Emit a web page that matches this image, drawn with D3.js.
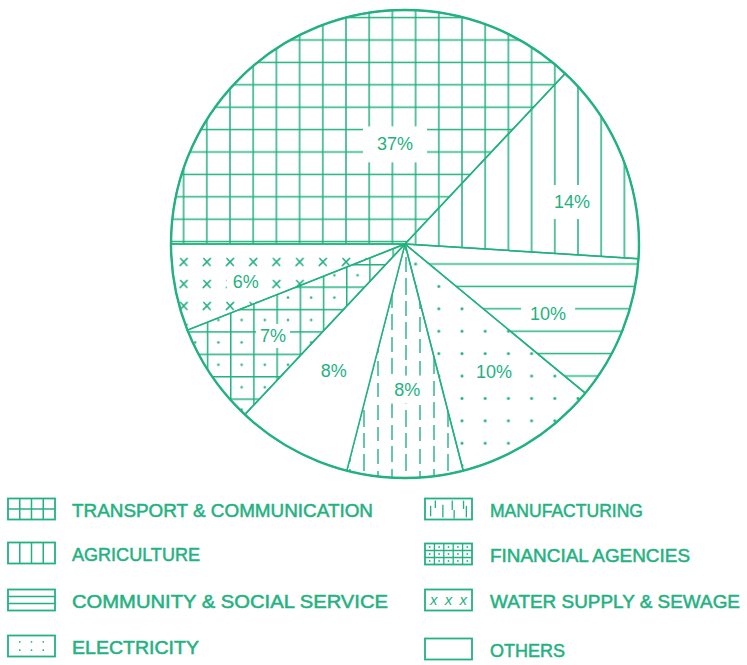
<!DOCTYPE html>
<html>
<head>
<meta charset="utf-8">
<script src="https://cdn.jsdelivr.net/npm/d3@7/dist/d3.min.js"></script>
<style>
  html, body { margin: 0; padding: 0; background: #fff; }
  svg { display: block; }
</style>
</head>
<body>
<svg id="chart" width="747" height="665"></svg>
<script>
// Sectors, in drawing order clockwise from nine o'clock
const categories = [
  "TRANSPORT & COMMUNICATION",
  "AGRICULTURE",
  "COMMUNITY & SOCIAL SERVICE",
  "ELECTRICITY",
  "MANUFACTURING",
  "OTHERS",
  "FINANCIAL AGENCIES",
  "WATER SUPPLY & SEWAGE"
];
const shares = [37, 14, 10, 10, 8, 8, 7, 6];
const shareLabels = ["37%", "14%", "10%", "10%", "8%", "8%", "7%", "6%"];
const hatchKinds = ["grid", "vlines", "hlines", "dots", "dashes", "plain", "gridDots", "crosses"];

// Legend arrangement: two columns of four
const legendLeft = [0, 1, 2, 3];
const legendRight = [4, 6, 7, 5];

// ---- layout / style ----
const INK = "#23b27f";
const W = 747, H = 665;
const cx = 405, cy = 244, R = 234;
const cellW = 23.2, cellH = 22.4;

// where each percentage sits: [fraction across the sector's angle, fraction of radius]
const labelAt = [[0.633, 0.43], [0.645, 0.736], [0.62, 0.68], [0.43, 0.665],
                 [0.47, 0.62], [0.52, 0.62], [0.48, 0.686], [0.38, 0.70]];
// white clearing behind each percentage: [padX, padY]
const labelPad = [[14, 10], [8, 9], [9, 3], [7, 6], [6, 6], [0, 0], [4, 4], [6, 5]];

const svg = d3.select("#chart");
svg.append("rect").attr("width", W).attr("height", H).attr("fill", "#fff");
const defs = svg.append("defs");

// ---- hatch patterns, aligned on the pie centre ----
function pattern(id, w, h, ox, oy) {
  return defs.append("pattern")
    .attr("id", id)
    .attr("patternUnits", "userSpaceOnUse")
    .attr("width", w).attr("height", h)
    .attr("x", ox).attr("y", oy);
}
const sw = 1.5;

// square grid
{
  const p = pattern("grid", cellW, cellH, cx - cellW / 2, cy - cellH / 2);
  p.append("line").attr("x1", cellW / 2).attr("x2", cellW / 2).attr("y1", 0).attr("y2", cellH)
    .attr("stroke", INK).attr("stroke-width", sw);
  p.append("line").attr("y1", cellH / 2).attr("y2", cellH / 2).attr("x1", 0).attr("x2", cellW)
    .attr("stroke", INK).attr("stroke-width", sw);
}
// vertical rules
{
  const p = pattern("vlines", cellW, cellH, cx - cellW / 2, 0);
  p.append("line").attr("x1", cellW / 2).attr("x2", cellW / 2).attr("y1", 0).attr("y2", cellH)
    .attr("stroke", INK).attr("stroke-width", sw);
}
// horizontal rules
{
  const p = pattern("hlines", cellW, cellH, 0, cy - cellH / 2);
  p.append("line").attr("y1", cellH / 2).attr("y2", cellH / 2).attr("x1", 0).attr("x2", cellW)
    .attr("stroke", INK).attr("stroke-width", sw);
}
// dots on grid intersections
{
  const p = pattern("dots", cellW, cellH, cx - cellW / 2, cy - cellH / 2);
  p.append("circle").attr("cx", cellW / 2).attr("cy", cellH / 2).attr("r", 1.5).attr("fill", INK);
}
// staggered vertical dashes
{
  const tw = 42, th = 44;
  const p = pattern("dashes", tw, th, cx - 5, cy);
  const dashes = [
    [7, 2, 18], [7, 25, 40],
    [21, 10, 27], [21, 33, 44], [21, 0, 4],
    [35, 5, 20], [35, 27, 41]
  ];
  dashes.forEach(([x, y1, y2]) => {
    p.append("line").attr("x1", x).attr("x2", x).attr("y1", y1).attr("y2", y2)
      .attr("stroke", INK).attr("stroke-width", 1.4);
  });
}
// grid with a dot in each cell
{
  const p = pattern("gridDots", cellW, cellH, cx, cy);
  p.append("line").attr("x1", 0.75).attr("x2", 0.75).attr("y1", 0).attr("y2", cellH)
    .attr("stroke", INK).attr("stroke-width", sw);
  p.append("line").attr("y1", 0.75).attr("y2", 0.75).attr("x1", 0).attr("x2", cellW)
    .attr("stroke", INK).attr("stroke-width", sw);
  p.append("circle").attr("cx", cellW / 2).attr("cy", cellH / 2).attr("r", 1.3).attr("fill", INK);
}
// rows of little crosses
{
  const tw = cellW, th = 22;
  const p = pattern("crosses", tw, th, cx - tw / 2, cy + 16 - th / 2);
  const g = p.append("g").attr("transform", `translate(${tw / 2},${th / 2})`)
    .attr("stroke", INK).attr("stroke-width", 1.5).attr("stroke-linecap", "round");
  g.append("line").attr("x1", -3).attr("y1", -3.6).attr("x2", 3.3).attr("y2", 3.6);
  g.append("line").attr("x1", 3.6).attr("y1", -3.6).attr("x2", -3.6).attr("y2", 3.6);
}

const fillFor = k => k === "plain" ? "#fff" : `url(#${k})`;

// ---- pie ----
const pie = d3.pie().sort(null).value(d => d)
  .startAngle(-Math.PI / 2).endAngle(3 * Math.PI / 2);
const arcs = pie(shares);
const arc = d3.arc().innerRadius(0).outerRadius(R);

const gPie = svg.append("g").attr("transform", `translate(${cx},${cy})`);

gPie.selectAll("path.sector")
  .data(arcs)
  .join("path")
  .attr("class", "sector")
  .attr("d", arc)
  .attr("fill", (d, i) => fillFor(hatchKinds[i]))
  .attr("stroke", INK)
  .attr("stroke-width", 1.5)
  .attr("stroke-linejoin", "round");

gPie.append("circle")
  .attr("r", R)
  .attr("fill", "none")
  .attr("stroke", INK)
  .attr("stroke-width", 2.4);

// ---- percentage labels ----
const gLab = gPie.append("g");
arcs.forEach((d, i) => {
  const [t, rr] = labelAt[i];
  const a = d.startAngle + t * (d.endAngle - d.startAngle);
  const r = rr * R;
  const x = r * Math.sin(a), y = -r * Math.cos(a);
  const g = gLab.append("g");
  const txt = g.append("text")
    .attr("x", x).attr("y", y + 6.5)
    .attr("text-anchor", "middle")
    .attr("font-family", "'Liberation Sans', Arial, sans-serif")
    .attr("font-size", 18)
    .attr("fill", INK)
    .text(shareLabels[i]);
  const bb = txt.node().getBBox();
  const [px, py] = labelPad[i];
  if (px > 0 || py > 0) {
    g.insert("rect", "text")
      .attr("x", bb.x - px).attr("y", bb.y + 2 - py)
      .attr("width", bb.width + 2 * px).attr("height", bb.height - 4 + 2 * py)
      .attr("fill", "#fff");
  }
});

// ---- legend ----
const legendX = [8, 425];
const legendTextX = [72, 490];
const legendRows = [[510, 554, 601, 647], [510, 555, 601, 650]];
const legendTextWidths = {
  "TRANSPORT & COMMUNICATION": 301,
  "AGRICULTURE": 128,
  "COMMUNITY & SOCIAL SERVICE": 316,
  "ELECTRICITY": 127,
  "MANUFACTURING": 153,
  "FINANCIAL AGENCIES": 200,
  "WATER SUPPLY & SEWAGE": 250,
  "OTHERS": 75
};
const swW = 47, swH = 21;

function drawSwatch(g, kind) {
  g.append("rect").attr("width", swW).attr("height", swH)
    .attr("fill", "#fff").attr("stroke", INK).attr("stroke-width", 1.8);
  const line = (x1, y1, x2, y2, w = 1.5) => g.append("line")
    .attr("x1", x1).attr("y1", y1).attr("x2", x2).attr("y2", y2)
    .attr("stroke", INK).attr("stroke-width", w);
  const dot = (x, y) => g.append("circle").attr("cx", x).attr("cy", y).attr("r", 0.9).attr("fill", INK);
  if (kind === "grid") {
    d3.range(1, 4).forEach(k => line(k * swW / 4, 0, k * swW / 4, swH));
    line(0, swH / 2, swW, swH / 2);
  } else if (kind === "vlines") {
    d3.range(1, 4).forEach(k => line(k * swW / 4, 0, k * swW / 4, swH));
  } else if (kind === "hlines") {
    d3.range(1, 3).forEach(k => line(0, k * swH / 3, swW, k * swH / 3));
  } else if (kind === "dots") {
    [0.25, 0.5, 0.75].forEach(fx => [0.3, 0.7].forEach(fy => dot(fx * swW, fy * swH)));
  } else if (kind === "dashes") {
    [[0.12, 0.35, 0.85], [0.22, 0.1, 0.45], [0.38, 0.3, 0.9], [0.58, 0.1, 0.55],
     [0.62, 0.55, 0.95], [0.82, 0.1, 0.5], [0.88, 0.35, 0.9]]
      .forEach(([fx, a, b]) => line(fx * swW, a * swH, fx * swW, b * swH, 1.3));
  } else if (kind === "gridDots") {
    d3.range(1, 5).forEach(k => line(k * swW / 5, 0, k * swW / 5, swH, 1.3));
    d3.range(1, 3).forEach(k => line(0, k * swH / 3, swW, k * swH / 3, 1.3));
    d3.range(5).forEach(c => d3.range(3).forEach(r => dot((c + 0.5) * swW / 5, (r + 0.5) * swH / 3)));
  } else if (kind === "crosses") {
    g.append("text").attr("x", swW / 2).attr("y", swH / 2 + 5)
      .attr("text-anchor", "middle")
      .attr("font-family", "'Liberation Sans', Arial, sans-serif")
      .attr("font-style", "italic")
      .attr("font-size", 15).attr("fill", INK)
      .attr("textLength", 37).attr("lengthAdjust", "spacing")
      .text("x x x");
  }
}

[legendLeft, legendRight].forEach((col, ci) => {
  col.forEach((idx, ri) => {
    const yc = legendRows[ci][ri];
    const sg = svg.append("g").attr("transform", `translate(${legendX[ci]},${yc - swH / 2 - 1})`);
    drawSwatch(sg, hatchKinds[idx]);
    svg.append("text")
      .attr("x", legendTextX[ci])
      .attr("y", yc + 7)
      .attr("font-family", "'Liberation Sans', Arial, sans-serif")
      .attr("font-size", 18)
      .attr("fill", INK)
      .attr("stroke", INK)
      .attr("stroke-width", 0.5)
      .attr("textLength", legendTextWidths[categories[idx]])
      .attr("lengthAdjust", "spacingAndGlyphs")
      .text(categories[idx]);
  });
});
</script>
</body>
</html>
